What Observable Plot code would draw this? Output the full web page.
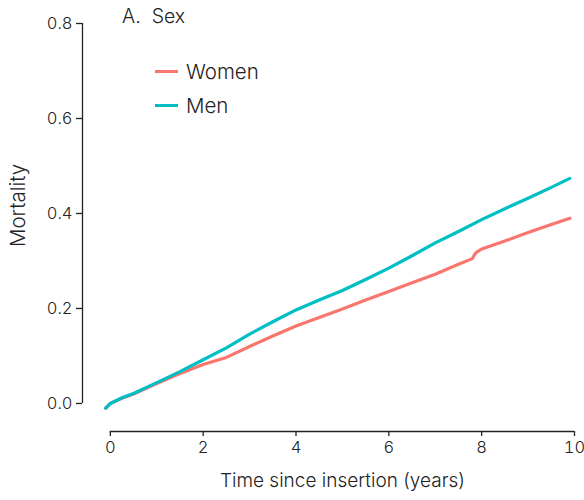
<!DOCTYPE html>
<html>
<head>
<meta charset="utf-8">
<script src="https://cdn.jsdelivr.net/npm/d3@7"></script>
<script src="https://cdn.jsdelivr.net/npm/@observablehq/plot@0.6"></script>
<style>
  html, body { margin: 0; padding: 0; background: #fff; }
  #wrap { position: relative; width: 584px; height: 500px; font-family: Inter, "Open Sans", sans-serif; color: #222; }
  #title { position: absolute; left: 122px; top: 4px; font-size: 19.5px; font-weight: 300; }
  #title span { margin-left: 11px; }
  .leg { position: absolute; left: 155px; font-size: 20.5px; font-weight: 300; display: flex; align-items: center; }
  .leg i { display: inline-block; width: 23px; height: 3.5px; margin-right: 8px; }
</style>
</head>
<body>
<div id="wrap">
  <div id="chart"></div>
  <div id="title">A.<span>Sex</span></div>
  <div class="leg" style="top:59px"><i style="background:#F8766D"></i>Women</div>
  <div class="leg" style="top:93px"><i style="background:#00BFC4"></i>Men</div>
</div>
<script>
const groups = ["Women", "Men"];
const colors = ["#F8766D", "#00BFC4"];

const menTime = [-0.1, 0, 0.25, 0.5, 1.0, 1.5, 2.0, 2.5, 3.0, 3.5, 4.0, 4.5, 5.0, 5.5, 6.0, 6.5, 7.0, 7.5, 8.0, 8.5, 9.0, 9.5, 9.9];
const menMort = [-0.01, 0.0, 0.012, 0.021, 0.044, 0.067, 0.092, 0.117, 0.146, 0.172, 0.197, 0.218, 0.238, 0.261, 0.285, 0.311, 0.338, 0.362, 0.387, 0.41, 0.432, 0.455, 0.474];

const womenTime = [-0.1, 0, 0.25, 0.5, 1.0, 1.5, 2.0, 2.5, 3.0, 3.5, 4.0, 4.5, 5.0, 5.5, 6.0, 6.5, 7.0, 7.5, 7.8, 7.85, 7.9, 8.0, 8.5, 9.0, 9.5, 9.9];
const womenMort = [-0.01, 0.0, 0.011, 0.02, 0.042, 0.063, 0.082, 0.097, 0.12, 0.142, 0.163, 0.181, 0.199, 0.218, 0.236, 0.254, 0.272, 0.293, 0.305, 0.314, 0.319, 0.325, 0.342, 0.36, 0.377, 0.39];

const xTicks = [0, 2, 4, 6, 8, 10];
const yTicks = [0, 0.2, 0.4, 0.6, 0.8];
const xDomain = [-0.6, 10];
const yDomain = [-0.059, 0.8];

const data = [
  ...womenTime.map((t, i) => ({group: "Women", time: t, mort: womenMort[i]})),
  ...menTime.map((t, i) => ({group: "Men", time: t, mort: menMort[i]}))
];

const chart = Plot.plot({
  width: 584,
  height: 500,
  marginLeft: 82,
  marginRight: 10,
  marginTop: 23,
  marginBottom: 69,
  style: {fontFamily: "Inter, 'Open Sans', sans-serif", color: "#222", background: "#fff"},
  x: {domain: xDomain},
  y: {domain: yDomain},
  color: {domain: groups, range: colors},
  marks: [
    Plot.ruleX([xDomain[0]], {y1: yTicks[0], y2: yTicks[yTicks.length - 1], stroke: "#222", strokeWidth: 1.3}),
    Plot.ruleY([yDomain[0]], {x1: xTicks[0], x2: xTicks[xTicks.length - 1], stroke: "#222", strokeWidth: 1.3}),
    Plot.axisY({ticks: yTicks, tickFormat: d3.format(".1f"), tickSize: 6, tickPadding: 4, fontSize: 16.5, fontWeight: 300, strokeWidth: 1.3, label: null}),
    Plot.axisX({ticks: xTicks, tickFormat: d3.format("d"), tickSize: 5, tickPadding: 5, fontSize: 16.5, fontWeight: 300, strokeWidth: 1.3, label: null}),
    Plot.text(["Mortality"], {y: 0.417, frameAnchor: "left", textAnchor: "middle", dx: -64, rotate: -90, fontSize: 20.5, fontWeight: 300, fill: "#222"}),
    Plot.text(["Time since insertion (years)"], {x: 5, frameAnchor: "bottom", dy: 55, fontSize: 19, fontWeight: 300, fill: "#222"}),
    Plot.line(data, {x: "time", y: "mort", stroke: "group", strokeWidth: 3.2, curve: "linear"})
  ]
});
document.getElementById("chart").appendChild(chart);
</script>
</body>
</html>
